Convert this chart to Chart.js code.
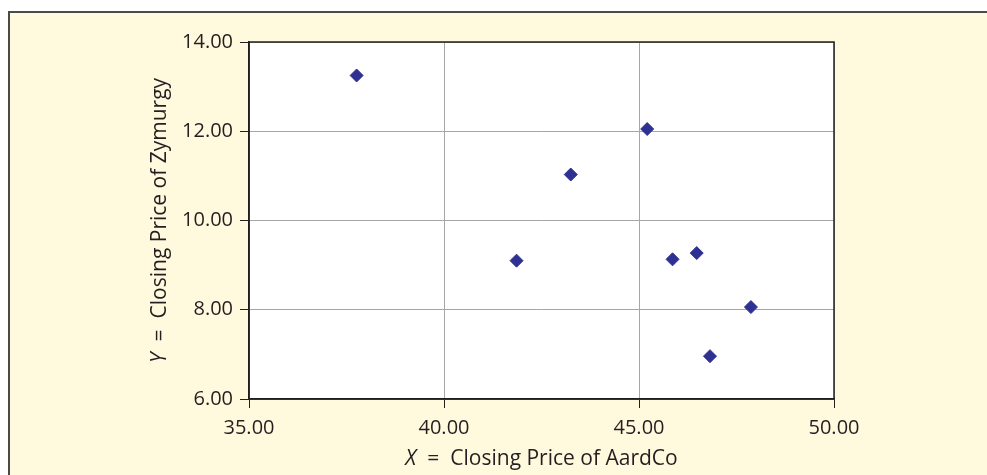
<!DOCTYPE html>
<html>
<head>
<meta charset="utf-8">
<script src="https://cdn.jsdelivr.net/npm/chart.js@4.4.0/dist/chart.umd.min.js"></script>
<style>
    html, body { margin: 0; padding: 0; background: #ffffff; }
    #panel {
        position: absolute; left: 8px; top: 11px; width: 990px; height: 470px;
        background: #FFF9DE; border-top: 2px solid #4a4a4a; border-left: 2px solid #4a4a4a;
    }
    #wrap { position: absolute; left: 0; top: 0; width: 987px; height: 475px; }
</style>
</head>
<body>
<div id="panel"></div>
<div id="wrap"><canvas id="scatterChart" width="987" height="475"></canvas></div>
<script>
// Harga penutupan
const aardcoPrices = [37.76, 43.25, 45.21, 41.86, 45.86, 46.48, 47.87, 46.82];
const zymurgyPrices = [13.25, 11.03, 12.05, 9.10, 9.13, 9.27, 8.06, 6.96];
const xTicks = [35, 40, 45, 50];
const yTicks = [6, 8, 10, 12, 14];
const xTitle = ['X', '=', 'Closing Price of AardCo'];
const yTitle = ['Y', '=', 'Closing Price of Zymurgy'];

const fontFamily = "'Open Sans', 'Noto Sans', sans-serif";
const textColor = '#231F20';

// Latar putih area plot + bingkai atas/kanan
const plotFrame = {
    id: 'plotFrame',
    beforeDraw(chart) {
        const { ctx, chartArea: a } = chart;
        ctx.save();
        ctx.fillStyle = '#ffffff';
        ctx.fillRect(a.left, a.top, a.right - a.left, a.bottom - a.top);
        ctx.restore();
    },
    afterDraw(chart) {
        const { ctx, chartArea: a } = chart;
        ctx.save();
        ctx.strokeStyle = '#231F20';
        ctx.lineWidth = 1.5;
        ctx.strokeRect(a.left, a.top, a.right - a.left, a.bottom - a.top);

        // Judul sumbu dengan huruf variabel miring
        ctx.fillStyle = textColor;
        ctx.textBaseline = 'middle';
        const italic = "italic 21px " + fontFamily;
        const normal = "21px " + fontFamily;
        const gap = 11;
        function drawTitle(parts, cx, cy, rot) {
            ctx.save();
            ctx.translate(cx, cy);
            ctx.rotate(rot);
            ctx.font = italic;
            const w0 = ctx.measureText(parts[0]).width;
            ctx.font = normal;
            const w1 = ctx.measureText(parts[1]).width;
            const w2 = ctx.measureText(parts[2]).width;
            let x = -(w0 + w1 + w2 + 2 * gap) / 2;
            ctx.textAlign = 'left';
            ctx.font = italic;
            ctx.fillText(parts[0], x, 0);
            ctx.font = normal;
            ctx.fillText(parts[1], x + w0 + gap, 0);
            ctx.fillText(parts[2], x + w0 + w1 + 2 * gap, 0);
            ctx.restore();
        }
        drawTitle(xTitle, (a.left + a.right) / 2, 459, 0);
        drawTitle(yTitle, 160, (a.top + a.bottom) / 2, -Math.PI / 2);
        ctx.restore();
    }
};

const ctx = document.getElementById('scatterChart');
new Chart(ctx.getContext('2d'), {
    type: 'scatter',
    data: {
        datasets: [{
            label: 'Zymurgy vs AardCo',
            data: aardcoPrices.map((x, i) => ({ x: x, y: zymurgyPrices[i] })),
            pointStyle: 'rectRot',
            pointRadius: 6.5,
            pointHoverRadius: 6.5,
            backgroundColor: '#2E3192',
            borderColor: '#2E3192',
            borderWidth: 1
        }]
    },
    options: {
        responsive: false,
        animation: false,
        layout: { padding: { top: 42, right: 153, left: 0, bottom: 0 } },
        plugins: {
            legend: { display: false },
            tooltip: { enabled: false }
        },
        scales: {
            x: {
                type: 'linear',
                min: 35,
                max: 50,
                afterBuildTicks: function(scale) {
                    scale.ticks = xTicks.map(v => ({ value: v }));
                },
                afterFit: function(scale) { scale.height = 76; },
                grid: { color: '#A6A6A6', lineWidth: 1, tickLength: 9, tickColor: '#231F20' },
                border: { color: '#231F20', width: 1.5 },
                ticks: {
                    padding: 8,
                    color: textColor,
                    font: { family: fontFamily, size: 20 },
                    callback: function(value) { return value.toFixed(2); }
                }
            },
            y: {
                type: 'linear',
                min: 6,
                max: 14,
                afterBuildTicks: function(scale) {
                    scale.ticks = yTicks.map(v => ({ value: v }));
                },
                afterFit: function(scale) { scale.width = 249; },
                grid: { color: '#A6A6A6', lineWidth: 1, tickLength: 9, tickColor: '#231F20' },
                border: { color: '#231F20', width: 1.5 },
                ticks: {
                    padding: 7,
                    color: textColor,
                    font: { family: fontFamily, size: 20 },
                    callback: function(value) { return value.toFixed(2); }
                }
            }
        }
    },
    plugins: [plotFrame]
});
</script>
</body>
</html>
